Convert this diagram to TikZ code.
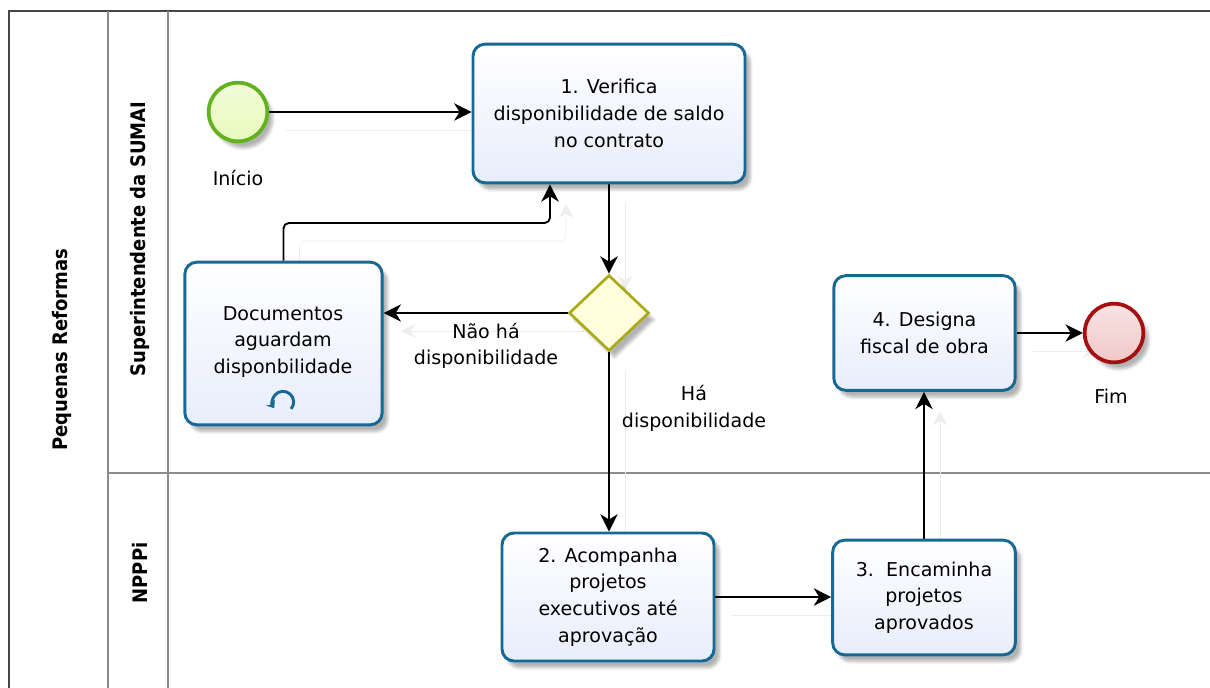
\documentclass[tikz,border=0pt]{standalone}
\usepackage{fontspec}
\setmainfont{DejaVu Sans}
\newfontfamily\lanefont{DejaVu Sans Condensed}
\usetikzlibrary{arrows.meta, shapes.geometric, shadows.blur}
\pgfdeclarelayer{bg}
\pgfsetlayers{bg,main}
\definecolor{taskline}{RGB}{24,104,150}
\definecolor{taskfill}{RGB}{232,237,252}
\definecolor{startline}{RGB}{98,177,30}
\definecolor{startfill}{RGB}{232,250,190}
\definecolor{endline}{RGB}{165,15,15}
\definecolor{endfill}{RGB}{240,200,200}
\definecolor{gateline}{RGB}{170,170,20}
\definecolor{gatefill}{RGB}{255,255,222}
\definecolor{poolline}{RGB}{70,70,70}
\definecolor{laneline}{RGB}{140,140,140}
\begin{document}
\begin{tikzpicture}[x=0.75pt, y=-0.75pt, font=\fontsize{14.3pt}{20pt}\selectfont, every node/.style={align=center}]
	\tikzstyle{task}=[rectangle, rounded corners=9pt, draw=taskline, line width=2.2pt, top color=white, bottom color=taskfill, inner sep=0pt, blur shadow={shadow xshift=4pt, shadow yshift=-5pt, shadow blur steps=6, shadow opacity=30}]
	\tikzstyle{event}=[circle, line width=2.8pt, minimum size=44pt, inner sep=0pt, blur shadow={shadow xshift=4pt, shadow yshift=-5pt, shadow blur steps=6, shadow opacity=30}]
	\tikzstyle{gateway}=[diamond, draw=gateline, line width=2pt, fill=gatefill, minimum width=60pt, minimum height=57pt, inner sep=0pt, blur shadow={shadow xshift=4pt, shadow yshift=-5pt, shadow blur steps=6, shadow opacity=30}]
	\tikzstyle{lane}=[font=\lanefont\bfseries\fontsize{15pt}{17pt}\selectfont, rotate=90]
	\tikzstyle{flow}=[-{Stealth[length=13pt, width=13pt, inset=4pt]}, line width=1.4pt, preaction={draw=black!7, transform canvas={shift={(16,18)}}}]
	\useasboundingbox (0,0) rectangle (1210,687);

	\draw node[lane] at (62, 350) (pool) {Pequenas Reformas};
	\draw node[lane] at (140, 239) (sumai) {Superintendente da SUMAI};
	\draw node[lane] at (140, 573) (npppi) {NPPPi};

	% events, tasks and gateway
	\draw node[event, draw=startline, top color=white!40!startfill, bottom color=startfill] at (238, 112) (start) {};
	\draw node at (238, 178) (startlabel) {Início};
	\draw node[task, minimum width=204pt, minimum height=104pt] at (609, 113.5) (task1) {1. Verifica\\disponibilidade de saldo\\no contrato};
	\draw node[gateway] at (609, 313) (gate) {};
	\draw node[task, minimum width=148pt, minimum height=122pt] at (283.5, 343.5) (docs) {};
	\draw node at (283, 342) (docstext) {Documentos\\aguardam\\disponbilidade};
	\coordinate (loop) at (283, 402);
	\draw[taskline, line width=2.2pt, -{Stealth[length=5pt, width=8pt]}] (loop) ++(-40:8pt) arc[start angle=-40, end angle=215, radius=8pt];
	\draw node[task, minimum width=136pt, minimum height=86pt] at (924.5, 333) (task4) {4. Designa\\fiscal de obra};
	\draw node[event, draw=endline, top color=white!50!endfill, bottom color=endfill] at (1114, 333) (end) {};
	\draw node at (1111, 396) (endlabel) {Fim};
	\draw node[task, minimum width=159pt, minimum height=96pt] at (608, 597) (task2) {2. Acompanha\\projetos\\executivos até\\aprovação};
	\draw node[task, minimum width=137pt, minimum height=86pt] at (924, 597.5) (task3) {3.\ \ Encaminha\\projetos\\aprovados};
	\draw node at (486, 346) (nolabel) {Não há\\disponibilidade};
	\draw node at (694, 408.5) (yeslabel) {Há\\disponibilidade};
	\coordinate (bend) at (550, 223);

	% pool lines and sequence flows
	\begin{pgfonlayer}{bg}
	\draw[poolline, line width=1.6pt] (9,700) -- (9,11) -- (1212,11);
	\draw[laneline, line width=1.6pt] (108,11) -- (108,700);
	\draw[laneline, line width=1.6pt] (168,11) -- (168,700);
	\draw[laneline, line width=1.6pt] (108,473) -- (1212,473);
	\draw[flow] (start) -- (start -| task1.west);
	\draw[flow] (task1.south) -- (gate.north);
	\draw[flow] (gate.west) -- (gate.west -| docs.east);
	\draw[flow, rounded corners=4pt] (docs.north) |- (bend) -- (bend |- task1.south);
	\draw[flow] (gate.south) -- (gate.south |- task2.north);
	\draw[flow] (task2.east) -- (task2.east -| task3.west);
	\draw[flow] (task3.north) -- (task3.north |- task4.south);
	\draw[flow] (task4.east) -- (end);
	\end{pgfonlayer}
\end{tikzpicture}
\end{document}
